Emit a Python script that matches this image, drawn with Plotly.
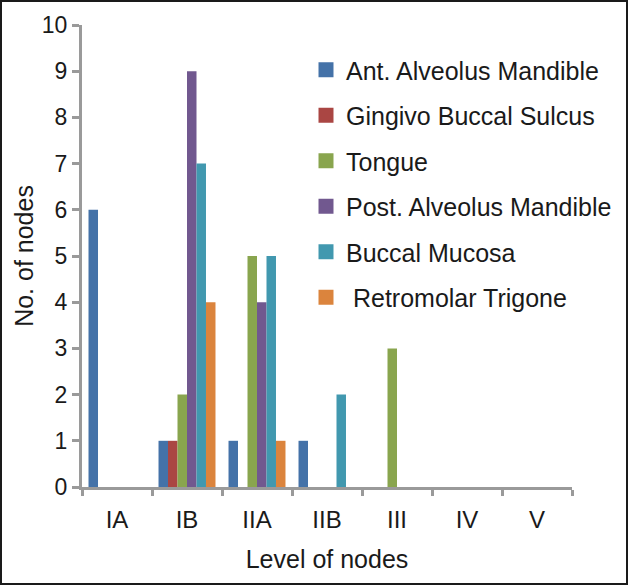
import plotly.graph_objects as go

categories = ["IA", "IB", "IIA", "IIB", "III", "IV", "V"]
series_names = ["Ant. Alveolus Mandible", "Gingivo Buccal Sulcus", "Tongue",
                "Post. Alveolus Mandible", "Buccal Mucosa", " Retromolar Trigone"]
ant_alveolus = [6, 1, 1, 1, 0, 0, 0]
gingivo_buccal = [0, 1, 0, 0, 0, 0, 0]
tongue = [0, 2, 5, 0, 3, 0, 0]
post_alveolus = [0, 9, 4, 0, 0, 0, 0]
buccal_mucosa = [0, 7, 5, 2, 0, 0, 0]
retromolar = [0, 4, 1, 0, 0, 0, 0]
colors = ["#4472A8", "#AA4643", "#89A54E", "#71588F", "#4198AF", "#DB843D"]

series_values = [ant_alveolus, gingivo_buccal, tongue, post_alveolus, buccal_mucosa, retromolar]

W, H = 630, 586
ml, mr, mt, mb = 82, 58, 25, 99
pw, ph = W - ml - mr, H - mt - mb

fig = go.Figure()
for i, (name, vals, col) in enumerate(zip(series_names, series_values, colors)):
    fig.add_trace(go.Bar(x=categories, y=vals, name=name, marker_color=col,
                         marker_line_width=0, legendgroup=f"g{i}", showlegend=False))
# legend-only entries with larger square swatches
for i, (name, col) in enumerate(zip(series_names, colors)):
    fig.add_trace(go.Scatter(x=[None], y=[None], mode="markers", name=name,
                             marker=dict(symbol="square", size=15, color=col),
                             legendgroup=f"g{i}", showlegend=True, hoverinfo="skip"))

axis_col = "#9A9A9A"
font_family = "Liberation Sans, Arial, sans-serif"

def px_x(px):
    return (px - ml) / pw

def px_y(py):
    return 1 - (py - mt) / ph

fig.update_layout(
    width=W, height=H,
    margin=dict(l=ml, r=mr, t=mt, b=mb, pad=0, autoexpand=False),
    paper_bgcolor="white", plot_bgcolor="white",
    barmode="group", bargap=0.186, bargroupgap=0,
    font=dict(family=font_family, color="#1a1a1a", size=24),
    showlegend=True,
    legend=dict(x=px_x(306), y=px_y(47), xanchor="left", yanchor="top",
                bgcolor="rgba(0,0,0,0)", font=dict(size=25, color="#1a1a1a"),
                tracegroupgap=10, itemwidth=30, traceorder="grouped"),
    xaxis=dict(showline=True, linecolor=axis_col, linewidth=3, automargin=False,
               ticks="outside", tickson="boundaries", ticklen=6, tickwidth=3,
               tickcolor=axis_col, tickfont=dict(size=24, color="#1a1a1a"),
               ticklabelstandoff=9,
               title=dict(text="Level of nodes", font=dict(size=25), standoff=19),
               showgrid=False, zeroline=False),
    yaxis=dict(range=[0, 10], dtick=1, showline=True, linecolor=axis_col, linewidth=3,
               automargin=False,
               ticks="outside", ticklen=7, tickwidth=3, tickcolor=axis_col,
               tickfont=dict(size=23, color="#1a1a1a"),
               title=dict(text="No. of nodes", font=dict(size=25), standoff=2),
               showgrid=False, zeroline=False),
    shapes=[dict(type="rect", xref="paper", yref="paper",
                 x0=px_x(1), x1=px_x(627), y0=px_y(584), y1=px_y(1),
                 line=dict(color="#1a1a1a", width=2), fillcolor="rgba(0,0,0,0)", layer="below")],
)

fig.write_html("out.html", config={"displayModeBar": False},
               post_script="document.body.style.margin='0';document.body.style.padding='0';")
